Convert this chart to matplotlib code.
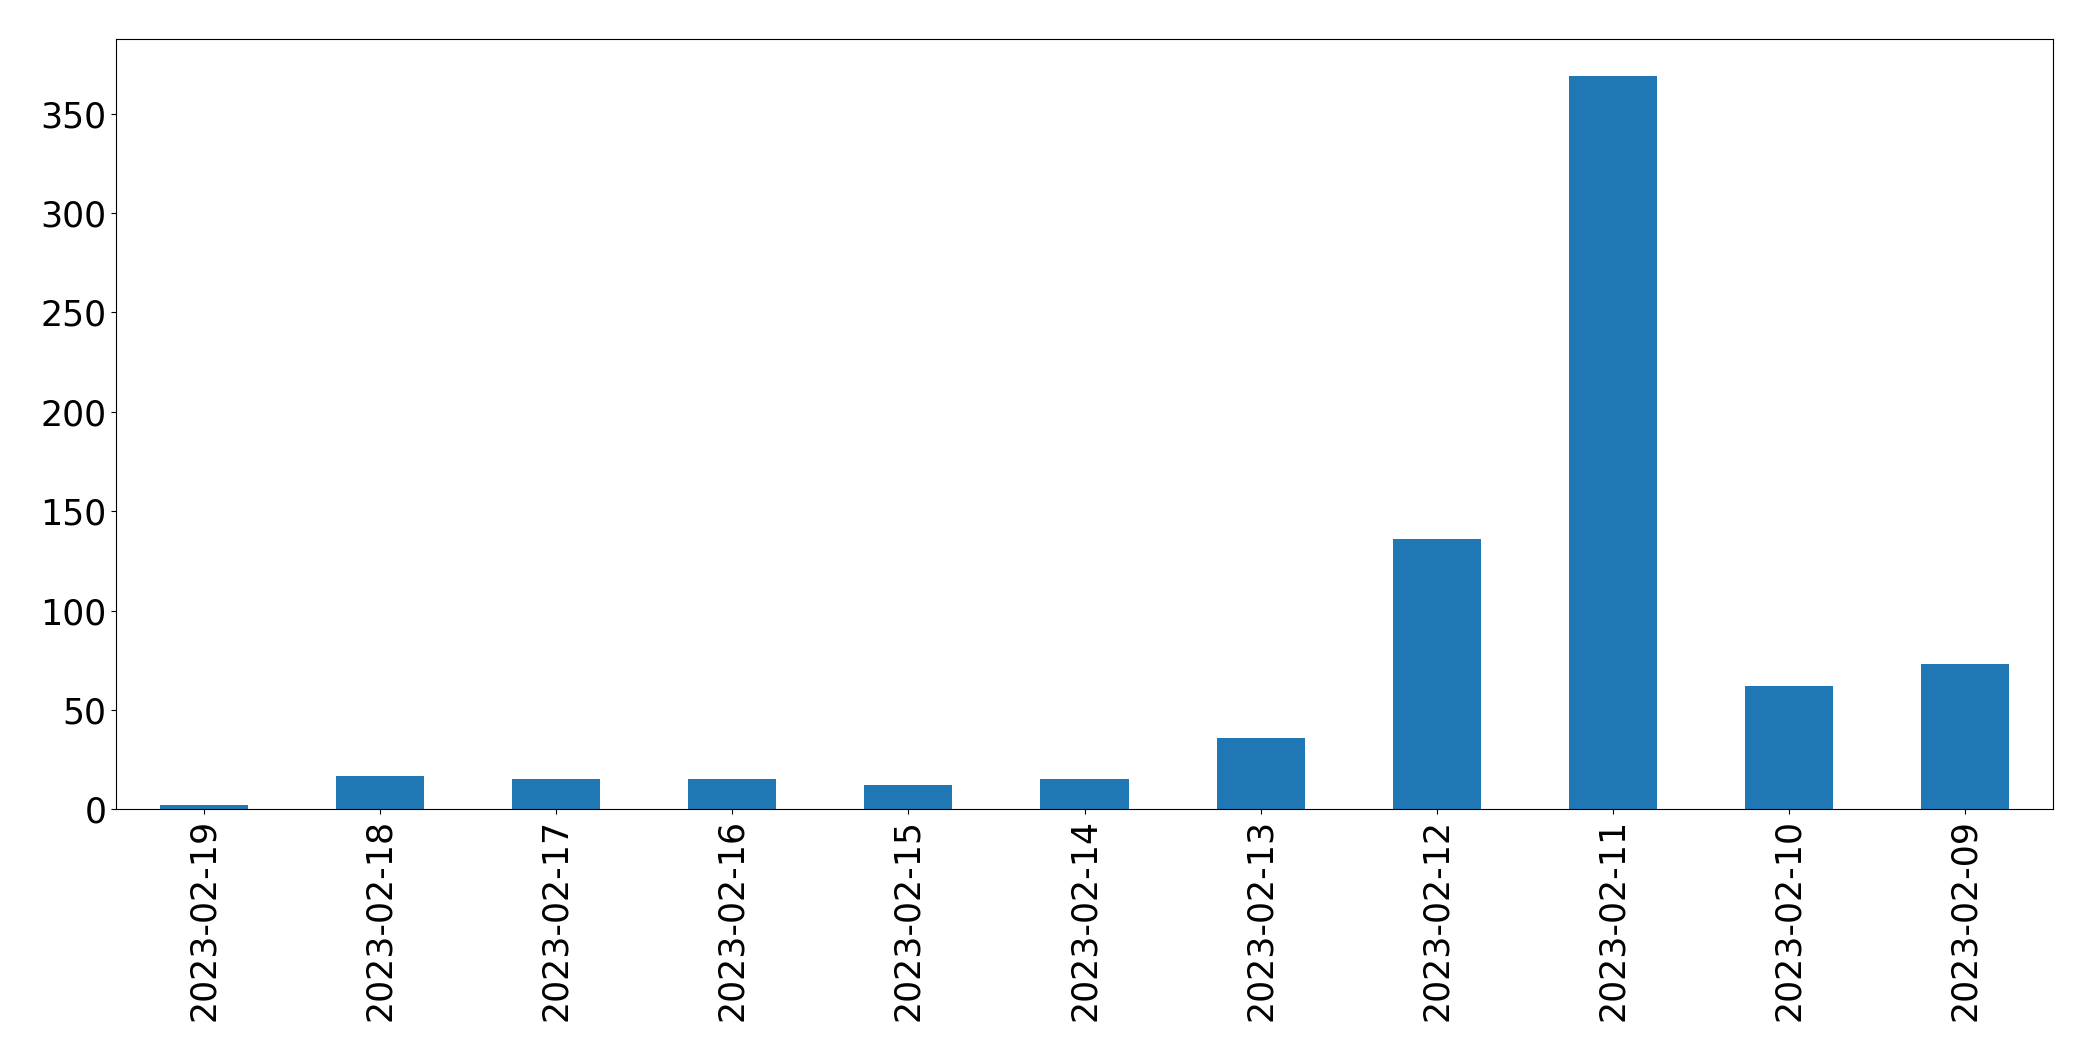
import matplotlib
matplotlib.use("Agg")
import matplotlib.pyplot as plt
import numpy as np

dates = ["2023-02-19", "2023-02-18", "2023-02-17", "2023-02-16", "2023-02-15",
         "2023-02-14", "2023-02-13", "2023-02-12", "2023-02-11", "2023-02-10",
         "2023-02-09"]
counts = [2, 17, 15, 15, 12, 15, 36, 136, 369, 62, 73]

fig = plt.figure(figsize=(20.93, 10.61), dpi=100)
ax = fig.add_axes([116 / 2093, 1 - 809.3 / 1061, (2053 - 116) / 2093, (809.3 - 39.3) / 1061])
x = np.arange(len(dates))
ax.bar(x, counts, width=0.5, color="#1f77b4")
ax.set_xlim(-0.5, len(dates) - 0.5)
ax.set_ylim(0, max(counts) * 1.05)
ax.set_xticks(x)
ax.set_xticklabels(dates, rotation=90, fontsize=25)
ax.set_yticks([0, 50, 100, 150, 200, 250, 300, 350])
ax.tick_params(axis="y", labelsize=25)
fig.savefig("out.png", dpi=100)
